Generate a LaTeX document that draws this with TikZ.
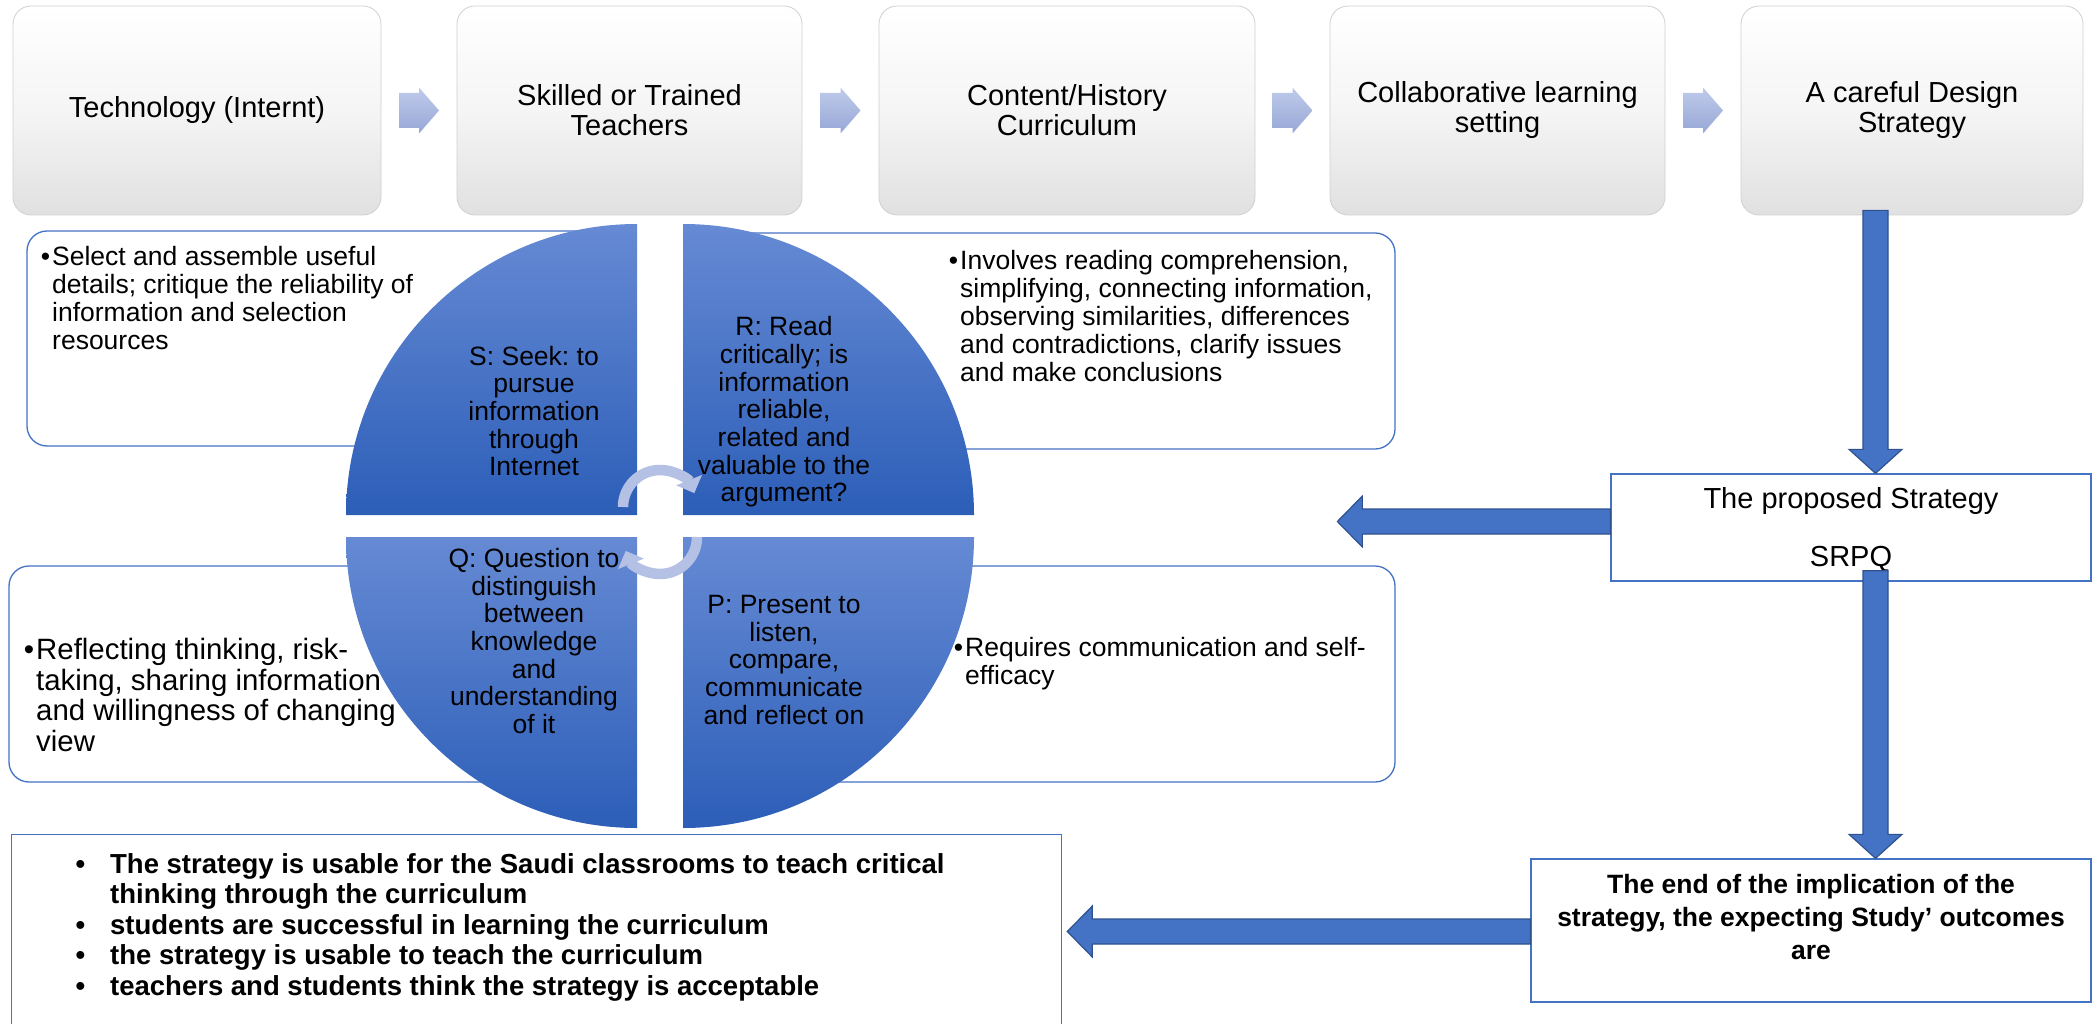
\documentclass[tikz,border=0pt]{standalone}
\usepackage{fontspec}
\setmainfont{Liberation Sans}
\usetikzlibrary{calc,arrows.meta}
\frenchspacing
\definecolor{accent}{RGB}{68,114,196}
\definecolor{accentdark}{RGB}{47,82,143}
\definecolor{qtop}{RGB}{102,138,212}
\definecolor{qbot}{RGB}{44,94,184}
\definecolor{chevtop}{RGB}{192,203,235}
\definecolor{chevbot}{RGB}{150,167,214}
\definecolor{cyc}{RGB}{180,192,228}
\definecolor{topborder}{RGB}{208,208,208}
\tikzset{
  topbox/.style={rounded corners=18pt, draw=topborder, line width=0.8pt,
    top color=white, bottom color=black!12, middle color=white!96!black,
    inner sep=0pt, align=center, minimum height=209pt,
    font=\fontsize{29}{30}\selectfont},
  chevron/.style={top color=chevtop, bottom color=chevbot, draw=none},
  cornerbox/.style={draw=accent, line width=1.3pt, rounded corners=20pt, fill=white, inner sep=0pt},
  quadrant/.style={top color=qtop, bottom color=qbot},
  qtext/.style={align=center, inner sep=0pt, font=\fontsize{26.5}{27.7}\selectfont},
  ctext/.style={align=left, inner sep=0pt, anchor=north west, font=\fontsize{26.5}{28}\selectfont},
  cyclearrow/.style={draw=cyc, line width=10.5pt, -{Triangle[width=27pt,length=14pt]}},
  plainbox/.style={draw=accent, line width=1.3pt, fill=white, inner sep=0pt, align=center},
  otext/.style={align=left, inner sep=0pt, anchor=north west, font=\bfseries\fontsize{27.5}{30.5}\selectfont},
  etext/.style={align=center, inner sep=0pt, anchor=north, font=\bfseries\fontsize{26.5}{33.3}\selectfont},
  blockarrow/.style={fill=accent, draw=accentdark, line width=1.2pt, line join=miter}
}
\newcommand{\fatdown}[2]{%
  \draw[blockarrow] let \p1=(#1), \p2=(#2) in
    (\x1-12.5pt,\y1) -- (\x1+12.5pt,\y1) -- (\x1+12.5pt,\y2+24pt) -- (\x1+26.5pt,\y2+24pt)
    -- (\x1,\y2) -- (\x1-26.5pt,\y2+24pt) -- (\x1-12.5pt,\y2+24pt) -- cycle;}
\newcommand{\fatleft}[2]{%
  \draw[blockarrow] let \p1=(#1), \p2=(#2) in
    (\x1,\y1+12.5pt) -- (\x2+25pt,\y1+12.5pt) -- (\x2+25pt,\y1+25.5pt) -- (\x2,\y1)
    -- (\x2+25pt,\y1-25.5pt) -- (\x2+25pt,\y1-12.5pt) -- (\x1,\y1-12.5pt) -- cycle;}
\newcommand{\chev}[1]{%
  \shade[chevron] let \p1=(#1) in
    (\x1-20pt,\y1+17.5pt) -- (\x1,\y1+17.5pt) -- (\x1,\y1+23pt) -- (\x1+20pt,\y1)
    -- (\x1,\y1-23pt) -- (\x1,\y1-17.5pt) -- (\x1-20pt,\y1-17.5pt) -- cycle;}
\begin{document}
\begin{tikzpicture}[x=1pt,y=-1pt]
\clip (0,0) rectangle (2092,1024);
\fill[white] (0,0) rectangle (2092,1024);

% top process boxes
\node[topbox, minimum width=368pt] (d1) at (197,110.5) {Technology (Internt)};
\node[topbox, minimum width=345pt] (d2) at (629.5,110.5) {Skilled or Trained\\Teachers};
\node[topbox, minimum width=376pt] (d3) at (1067,110.5) {Content/History\\Curriculum};
\node[topbox, minimum width=335pt] (d4) at (1497.5,110.5) {Collaborative learning\\setting};
\node[topbox, minimum width=342pt] (d5) at (1912,110.5) {A careful Design\\Strategy};

\coordinate (m1) at ($(d1.east)!0.5!(d2.west)$);
\coordinate (m2) at ($(d2.east)!0.5!(d3.west)$);
\coordinate (m3) at ($(d3.east)!0.5!(d4.west)$);
\coordinate (m4) at ($(d4.east)!0.5!(d5.west)$);
\chev{m1}\chev{m2}\chev{m3}\chev{m4}

% corner boxes of the cycle matrix
\node[cornerbox, minimum width=593pt, minimum height=215pt] (tl) at (323.5,338.5) {};
\node[cornerbox, minimum width=695pt, minimum height=216pt] (tr) at (1047.5,341) {};
\node[cornerbox, minimum width=611pt, minimum height=216pt] (bl) at (314.5,674) {};
\node[cornerbox, minimum width=695pt, minimum height=216pt] (br) at (1047.5,674) {};

% quadrants
\shade[quadrant] (637,515) -- (346,515) arc[start angle=180,end angle=270,radius=291] -- cycle;
\shade[quadrant] (683,515) -- (683,224) arc[start angle=270,end angle=360,radius=291] -- cycle;
\shade[quadrant] (637,537) -- (346,537) arc[start angle=180,end angle=90,radius=291] -- cycle;
\shade[quadrant] (683,537) -- (974,537) arc[start angle=0,end angle=90,radius=291] -- cycle;

\node[qtext] (qs) at (534,411) {S: Seek: to\\pursue\\information\\through\\Internet};
\node[qtext] (qr) at (784,412) {R: Read\\critically; is\\information\\reliable,\\related and\\valuable to the\\argument?};
\node[qtext] (qq) at (534,641) {Q: Question to\\distinguish\\between\\knowledge\\and\\understanding\\of it};
\node[qtext] (qp) at (784,660) {P: Present to\\listen,\\compare,\\communicate\\and reflect on};

% circular arrows
\draw[cyclearrow] (623,507) arc[start angle=180,end angle=338,radius=37];
\draw[cyclearrow] (697,537) arc[start angle=0,end angle=158,radius=37];

% corner texts
\node[ctext] (tlt) at (52,246) {\llap{•\hspace{2pt}}Select and assemble useful\\details; critique the reliability of\\information and selection\\resources};
\node[ctext] (trt) at (960,250) {\llap{•\hspace{2pt}}Involves reading comprehension,\\simplifying, connecting information,\\observing similarities, differences\\and contradictions, clarify issues\\and make conclusions};
\node[ctext, font=\fontsize{29.4}{30.7}\selectfont] (blt) at (36,638) {\llap{•\hspace{2pt}}Reflecting thinking, risk-\\taking, sharing information\\and willingness of changing\\view};
\node[ctext] (brt) at (965,637) {\llap{•\hspace{2pt}}Requires communication and self-\\efficacy};

% right column boxes
\node[plainbox, minimum width=480pt, minimum height=107pt] (prop) at (1851,527.5) {};
\node[align=center, inner sep=0pt, font=\fontsize{29}{33.4}\selectfont] (propt) at (1851,529.5) {The proposed Strategy\\[24.1pt]SRPQ};
\node[plainbox, minimum width=560pt, minimum height=143pt] (endb) at (1811,930.5) {};
\node[etext] (endt) at ([yshift=-15.5pt]endb.north) {The end of the implication of the\\strategy, the expecting Study’ outcomes\\are};

% outcome box
\node[plainbox, anchor=north west, minimum width=1050pt, minimum height=230pt] (outb) at (11,834) {};
\node[otext] (outt) at (110,853) {\llap{•\hspace{25pt}}The strategy is usable for the Saudi classrooms to teach critical\\
thinking through the curriculum\\
\llap{•\hspace{25pt}}students are successful in learning the curriculum\\
\llap{•\hspace{25pt}}the strategy is usable to teach the curriculum\\
\llap{•\hspace{25pt}}teachers and students think the strategy is acceptable};

% block arrows
\path ([xshift=-36.5pt,yshift=5pt]d5.south) coordinate (a1s);
\path (prop.north -| a1s) coordinate (a1e);
\path (prop.south -| a1s) ++(0,-11) coordinate (a2s);
\path (endb.north -| a1s) coordinate (a2e);
\path (prop.west) ++(0,-6) coordinate (a3s);
\path (a3s) ++(-273,0) coordinate (a3e);
\path (endb.west) ++(0,1) coordinate (a4s);
\path (a4s -| outb.east) ++(5,0) coordinate (a4e);
\fatdown{a1s}{a1e}
\fatdown{a2s}{a2e}
\fatleft{a3s}{a3e}
\fatleft{a4s}{a4e}
\end{tikzpicture}
\end{document}
